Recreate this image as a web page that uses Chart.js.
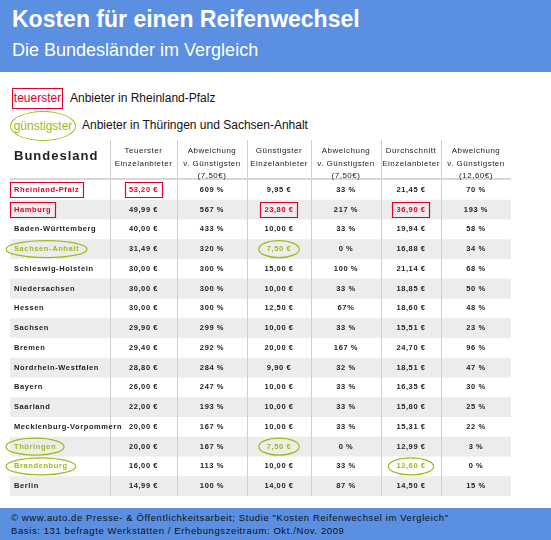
<!DOCTYPE html>
<html><head><meta charset="utf-8">
<script src="https://cdn.jsdelivr.net/npm/chart.js@4"></script>
<style>
body{margin:0;width:551px;height:540px;background:#fff;font-family:"Liberation Sans",Arial,sans-serif;position:relative;overflow:hidden}
#top{position:absolute;left:0;top:0;width:551px;height:72px;background:#5a8fe2;color:#fff}
#top .t{position:absolute;left:12px;top:6px;font-size:23px;font-weight:bold}
#top .s{position:absolute;left:12px;top:40px;font-size:18px}
.leg{position:absolute;font-size:12px;color:#111}
#red{position:absolute;left:12px;top:88px;width:49px;height:19px;border:1px solid #e0002a;color:#e0002a;font-size:12px;line-height:19px;text-align:center}
#green{position:absolute;left:10px;top:111px;width:64px;height:28px;border:1px solid #9bbb1c;border-radius:50%;color:#9bbb1c;font-size:12px;line-height:28px;text-align:center}
#foot{position:absolute;left:0;top:508px;width:551px;height:32px;background:#5a8fe2;color:#111;font-size:9.5px;letter-spacing:0.6px}
#wrap{position:absolute;left:0;top:140px;width:551px;height:356px}
</style></head><body>
<div id="top"><div class="t">Kosten für einen Reifenwechsel</div><div class="s">Die Bundesländer im Vergleich</div></div>
<div id="red">teuerster</div><div class="leg" style="left:70px;top:91px">Anbieter in Rheinland-Pfalz</div>
<div id="green">günstigster</div><div class="leg" style="left:82px;top:118px">Anbieter in Thüringen und Sachsen-Anhalt</div>
<div id="wrap"><canvas id="c"></canvas></div>
<div id="foot"><div style="position:absolute;left:11px;top:4px">© www.auto.de Presse- &amp; Öffentlichkeitsarbeit; Studie "Kosten Reifenwechsel im Vergleich"</div>
<div style="position:absolute;left:11px;top:17px">Basis: 131 befragte Werkstätten / Erhebungszeitraum: Okt./Nov. 2009</div></div>
<script>
const states = ['Rheinland-Pfalz','Hamburg','Baden-Württemberg','Sachsen-Anhalt','Schleswig-Holstein','Niedersachsen','Hessen','Sachsen','Bremen','Nordrhein-Westfalen','Bayern','Saarland','Mecklenburg-Vorpommern','Thüringen','Brandenburg','Berlin'];
const teuerster = ['53,20 €','49,99 €','40,00 €','31,49 €','30,00 €','30,00 €','30,00 €','29,90 €','29,40 €','28,80 €','26,00 €','22,00 €','20,00 €','20,00 €','16,00 €','14,99 €'];
const abwTeuer = ['609 %','567 %','433 %','320 %','300 %','300 %','300 %','299 %','292 %','284 %','247 %','193 %','167 %','167 %','113 %','100 %'];
const guenstigster = ['9,95 €','23,80 €','10,00 €','7,50 €','15,00 €','10,00 €','12,50 €','10,00 €','20,00 €','9,90 €','10,00 €','10,00 €','10,00 €','7,50 €','10,00 €','14,00 €'];
const abwGuenst = ['33 %','217 %','33 %','0 %','100 %','33 %','67%','33 %','167 %','32 %','33 %','33 %','33 %','0 %','33 %','87 %'];
const durchschnitt = ['21,45 €','36,90 €','19,94 €','16,88 €','21,14 €','18,85 €','18,60 €','15,51 €','24,70 €','18,51 €','16,35 €','15,80 €','15,31 €','12,99 €','12,60 €','14,50 €'];
const abwSchnitt = ['70 %','193 %','58 %','34 %','68 %','50 %','48 %','23 %','96 %','47 %','30 %','25 %','22 %','3 %','0 %','15 %'];
const headers = [['Bundesland'],['Teuerster','Einzelanbieter'],['Abweichung','v. Günstigsten','(7,50€)'],['Günstigster','Einzelanbieter'],['Abweichung','v. Günstigsten','(7,50€)'],['Durchschnitt','Einzelanbieter'],['Abweichung','v. Günstigsten','(12,60€)']];
const columns = [states, teuerster, abwTeuer, guenstigster, abwGuenst, durchschnitt, abwSchnitt];
// cell marks: [row, col, 'red'|'green']
const marks = [[0,0,'red'],[0,1,'red'],[1,0,'red'],[1,3,'red'],[1,5,'red'],[3,0,'green'],[3,3,'green'],[13,0,'green'],[13,3,'green'],[14,0,'green'],[14,5,'green']];
const colEdges = [0,100,167,237,301,371,431,501];

const RED = '#e0002a', GREEN = '#9bbb1c';
const tablePlugin = {
  id: 'table',
  beforeDatasetsDraw(chart) {
    const {ctx, chartArea: a, scales: {x, y}} = chart;
    const rowH = y.getPixelForValue(1) - y.getPixelForValue(0);
    ctx.save();
    states.forEach((s, i) => {
      if (i % 2) { ctx.fillStyle = '#ececec'; ctx.fillRect(a.left, y.getPixelForValue(i) - rowH / 2, a.width, rowH); }
    });
    ctx.strokeStyle = '#cfcfcf'; ctx.lineWidth = 1;
    colEdges.slice(1, -1).forEach(e => {
      const px = Math.round(x.getPixelForValue(e)) + 0.5;
      ctx.beginPath(); ctx.moveTo(px, 0); ctx.lineTo(px, a.bottom); ctx.stroke();
    });
    ctx.strokeStyle = '#d8d8d8'; ctx.lineWidth = 2;
    ctx.beginPath(); ctx.moveTo(a.left, a.top - 1); ctx.lineTo(a.right, a.top - 1); ctx.stroke();
    // headers
    ctx.fillStyle = '#222'; ctx.textBaseline = 'middle';
    headers.forEach((h, c) => {
      if (c === 0) {
        ctx.font = 'bold 13px "Liberation Sans"'; ctx.letterSpacing = '1px'; ctx.textAlign = 'left';
        ctx.fillText(h[0], x.getPixelForValue(colEdges[0]) + 4, 16);
      } else {
        ctx.font = '8px "Liberation Sans"'; ctx.letterSpacing = '0.5px'; ctx.textAlign = 'center';
        const cx = x.getPixelForValue((colEdges[c] + colEdges[c + 1]) / 2);
        h.forEach((t, k) => ctx.fillText(t, cx, 11 + k * 12.5));
      }
    });
    // cells
    ctx.font = 'bold 7.5px "Liberation Sans"'; ctx.letterSpacing = '0.6px';
    columns.forEach((col, c) => {
      col.forEach((v, r) => {
        const py = y.getPixelForValue(r);
        const m = marks.find(k => k[0] === r && k[1] === c);
        ctx.fillStyle = m ? (m[2] === 'red' ? RED : GREEN) : '#222';
        let tx, w = ctx.measureText(v).width;
        if (c === 0) { ctx.textAlign = 'left'; tx = x.getPixelForValue(colEdges[0]) + 4; }
        else { ctx.textAlign = 'center'; tx = x.getPixelForValue((colEdges[c] + colEdges[c + 1]) / 2); }
        ctx.fillText(v, tx, py);
        if (m) {
          const cx = c === 0 ? tx + w / 2 : tx;
          ctx.lineWidth = 1.2;
          ctx.strokeStyle = m[2] === 'red' ? RED : GREEN;
          ctx.beginPath();
          if (m[2] === 'red') ctx.rect(Math.round(cx - w / 2 - 4) + 0.5, Math.round(py - 8) + 0.5, Math.round(w + 8), 15);
          else ctx.ellipse(cx, py, w / 2 + 8, 8.5, 0, 0, Math.PI * 2);
          ctx.stroke();
        }
      });
    });
    ctx.restore();
  }
};

new Chart(document.getElementById('c'), {
  type: 'scatter',
  data: { labels: states, datasets: [{ data: [], pointRadius: 0 }] },
  options: {
    responsive: true, maintainAspectRatio: false, animation: false,
    layout: { padding: { top: 40, left: 10, right: 40, bottom: 0 } },
    scales: {
      x: { type: 'linear', min: 0, max: 501, display: false },
      y: { type: 'category', labels: states, offset: true, display: false }
    },
    plugins: { legend: { display: false }, tooltip: { enabled: false } }
  },
  plugins: [tablePlugin]
});
</script>
</body></html>
